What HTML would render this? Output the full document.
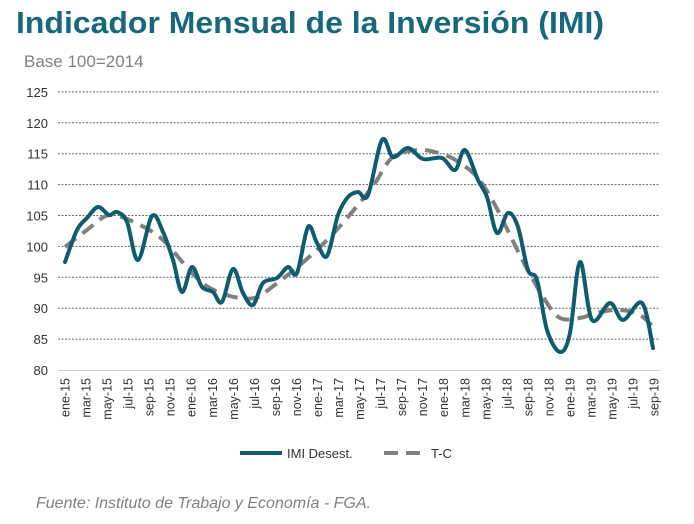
<!DOCTYPE html>
<html><head><meta charset="utf-8"><style>
html,body{margin:0;padding:0;background:#fff;}
svg{display:block;font-family:"Liberation Sans",Arial,sans-serif;}
</style></head><body>
<svg id="s" width="694" height="524" viewBox="0 0 694 524" xmlns="http://www.w3.org/2000/svg">
<text x="16" y="33" font-size="31" font-weight="bold" fill="#17687a" textLength="588" lengthAdjust="spacingAndGlyphs">Indicador Mensual de la Inversión (IMI)</text>
<text x="24" y="67" font-size="17" fill="#808080">Base 100=2014</text>
<g id="grid" stroke="#666" stroke-width="1" stroke-dasharray="2,1.5"></g>
<line x1="58" y1="370.5" x2="660" y2="370.5" stroke="#d0d0d0" stroke-width="1"/>
<g id="ylab" font-size="13" fill="#333" text-anchor="end"></g>
<g id="xlab" font-size="12.5" fill="#333"></g>
<path id="tc" fill="none" stroke="#808080" stroke-width="4" stroke-dasharray="14,8"/>
<path id="imi" fill="none" stroke="#0e5c6e" stroke-width="4" stroke-linejoin="round" stroke-linecap="round"/>
<line x1="240" y1="453" x2="282" y2="453" stroke="#0e5c6e" stroke-width="4"/>
<text x="287" y="458" font-size="13" fill="#333">IMI Desest.</text>
<line x1="384" y1="453" x2="426" y2="453" stroke="#808080" stroke-width="4" stroke-dasharray="14,8"/>
<text x="431" y="458" font-size="13" fill="#333">T-C</text>
<text x="36" y="508" font-size="16" font-style="italic" fill="#808080">Fuente: Instituto de Trabajo y Economía - FGA.</text>
</svg>
<script>
var NS="http://www.w3.org/2000/svg";
function el(t,a,p,txt){var e=document.createElementNS(NS,t);for(var k in a)e.setAttribute(k,a[k]);if(txt)e.textContent=txt;document.getElementById(p).appendChild(e);}
for(var v=85;v<=125;v+=5){var y=370-(v-80)*6.18;el('line',{x1:58,x2:660,y1:y.toFixed(1),y2:y.toFixed(1)},'grid');}
for(var v=80;v<=125;v+=5){var y=370-(v-80)*6.18;el('text',{x:48,y:(y+5).toFixed(1)},'ylab',String(v));}
var m=['ene','mar','may','jul','sep','nov'];var i=0;
for(var yr=15;yr<=19;yr++){for(var j=0;j<6;j++){var idx=(yr-15)*12+j*2;if(idx>56)break;var x=65+idx*10.52;
el('text',{x:0,y:0,transform:'translate('+(x+4.5).toFixed(1)+',378) rotate(-90)','text-anchor':'end'},'xlab',m[j]+'-'+yr);}}
function smooth(p){var d='M'+p[0][0]+','+p[0][1];for(var k=0;k<p.length-1;k++){var p0=p[k-1]||p[k],p1=p[k],p2=p[k+1],p3=p[k+2]||p2;
var c1=[p1[0]+(p2[0]-p0[0])/6,p1[1]+(p2[1]-p0[1])/6],c2=[p2[0]-(p3[0]-p1[0])/6,p2[1]-(p3[1]-p1[1])/6];
d+=' C'+c1[0].toFixed(1)+','+c1[1].toFixed(1)+' '+c2[0].toFixed(1)+','+c2[1].toFixed(1)+' '+p2[0]+','+p2[1];}return d;}
var imi=[[65,262],[77,230],[87,218],[98,207],[109,215],[117,212],[127,222],[138,260],[152,216],[163,232],[173,260],[182,292],[192,267],[202,287],[213,292],[222,302],[233,269],[243,293],[253,305],[263,283],[277,278],[288,267],[297,273],[308,227],[317,243],[327,256],[338,215],[348,197],[358,192],[368,195],[382,140],[393,157],[408,148],[423,159],[442,158],[455,170],[465,150],[478,180],[487,197],[497,233],[508,213],[518,227],[528,270],[537,280],[547,330],[560,352],[570,333],[580,262],[592,320],[610,303],[623,320],[642,303],[653,348]];
var tc=[[65,247],[87,230],[110,215],[140,225],[163,240],[185,265],[205,285],[230,296],[255,298],[272,287],[300,265],[330,237],[358,205],[375,183],[393,157],[420,150],[445,155],[460,163],[478,178],[495,205],[510,235],[525,265],[545,300],[560,318],[580,318],[600,312],[620,310],[640,315],[654,328]];
document.getElementById('imi').setAttribute('d',smooth(imi));
document.getElementById('tc').setAttribute('d',smooth(tc));
</script>
</body></html>
